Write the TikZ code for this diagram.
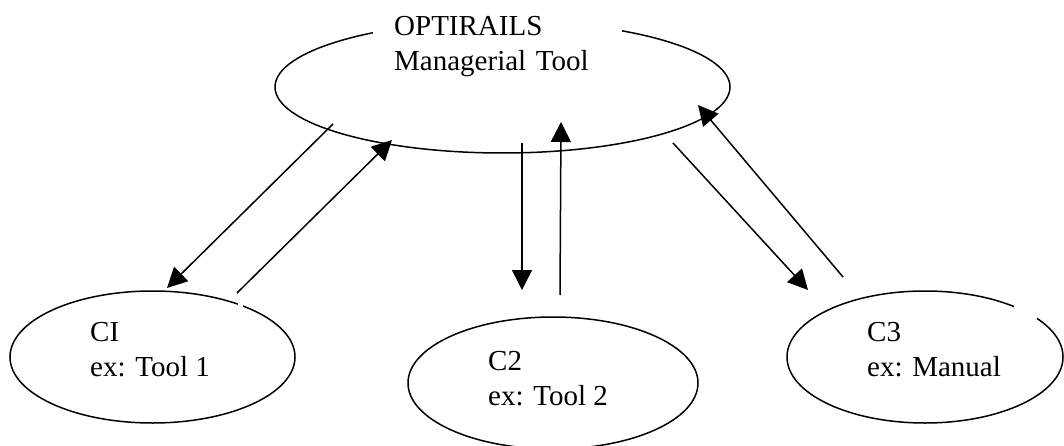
\documentclass[tikz,border=0pt]{standalone}
\usepackage{fontspec}
\setmainfont{Liberation Serif}
\usetikzlibrary{arrows.meta,shapes.geometric,calc}
\begin{document}
\begin{tikzpicture}[x=1pt,y=-1pt,
  oval/.style={draw, ellipse, line width=1.5pt, inner sep=0pt, minimum height=132pt},
  lbl/.style={font=\fontsize{29}{35}\selectfont, align=left, inner sep=0pt, anchor=base west},
  flow/.style={line width=1.5pt, -{Triangle[length=20pt,width=20pt]}}]
\useasboundingbox (0,0) rectangle (1064,446);

% the four ovals
\node[oval, minimum width=455pt] (mgr) at (502.5,87) {};
\node[oval, minimum width=285pt] (c1) at (152.5,357) {};
\node[oval, minimum width=290pt] (c2) at (553,383) {};
\node[oval, minimum width=276pt] (c3) at (925,357) {};

% small breaks in the outlines
\fill[white] (238,297) rectangle (243,310);
\fill[white] (1014,296) rectangle (1037,324);

% labels: the boxed one sits on its first baseline, the others on their last
\node[lbl, fill=white, text width=207pt, inner xsep=21pt, inner ysep=8pt] (mgrtext) at (373,36) {OPTIRAILS\\Managerial Tool};
\node[lbl] (c1text) at (90,376) {CI\\ex: Tool 1};
\node[lbl] (c2text) at (488,405) {C2\\ex: Tool 2};
\node[lbl] (c3text) at (867,376) {C3\\ex: Manual};

% end points of the connectors
\coordinate (m1) at ($(mgr.center)+(-169.5,37)$);
\coordinate (m2) at ($(mgr.center)+(-110.5,53)$);
\coordinate (m3) at ($(mgr.center)+(19.5,56)$);
\coordinate (m4) at ($(mgr.center)+(58.5,35)$);
\coordinate (m5) at ($(mgr.center)+(170.5,56)$);
\coordinate (m6) at ($(mgr.center)+(195.5,18)$);
\coordinate (a1) at ($(c1.center)+(14.5,-69)$);
\coordinate (b1) at ($(c1.center)+(84.5,-64)$);
\coordinate (a2) at ($(c2.center)+(-31,-93)$);
\coordinate (b2) at ($(c2.center)+(7,-88)$);
\coordinate (a3) at ($(c3.center)+(-117,-67)$);
\coordinate (b3) at ($(c3.center)+(-82,-80)$);

% connectors
\draw[flow] (m1) -- (a1);
\draw[flow] (b1) -- (m2);
\draw[flow] (m3) -- (a2);
\draw[flow] (b2) -- (m4);
\draw[flow] (m5) -- (a3);
\draw[flow] (b3) -- (m6);
\end{tikzpicture}
\end{document}
